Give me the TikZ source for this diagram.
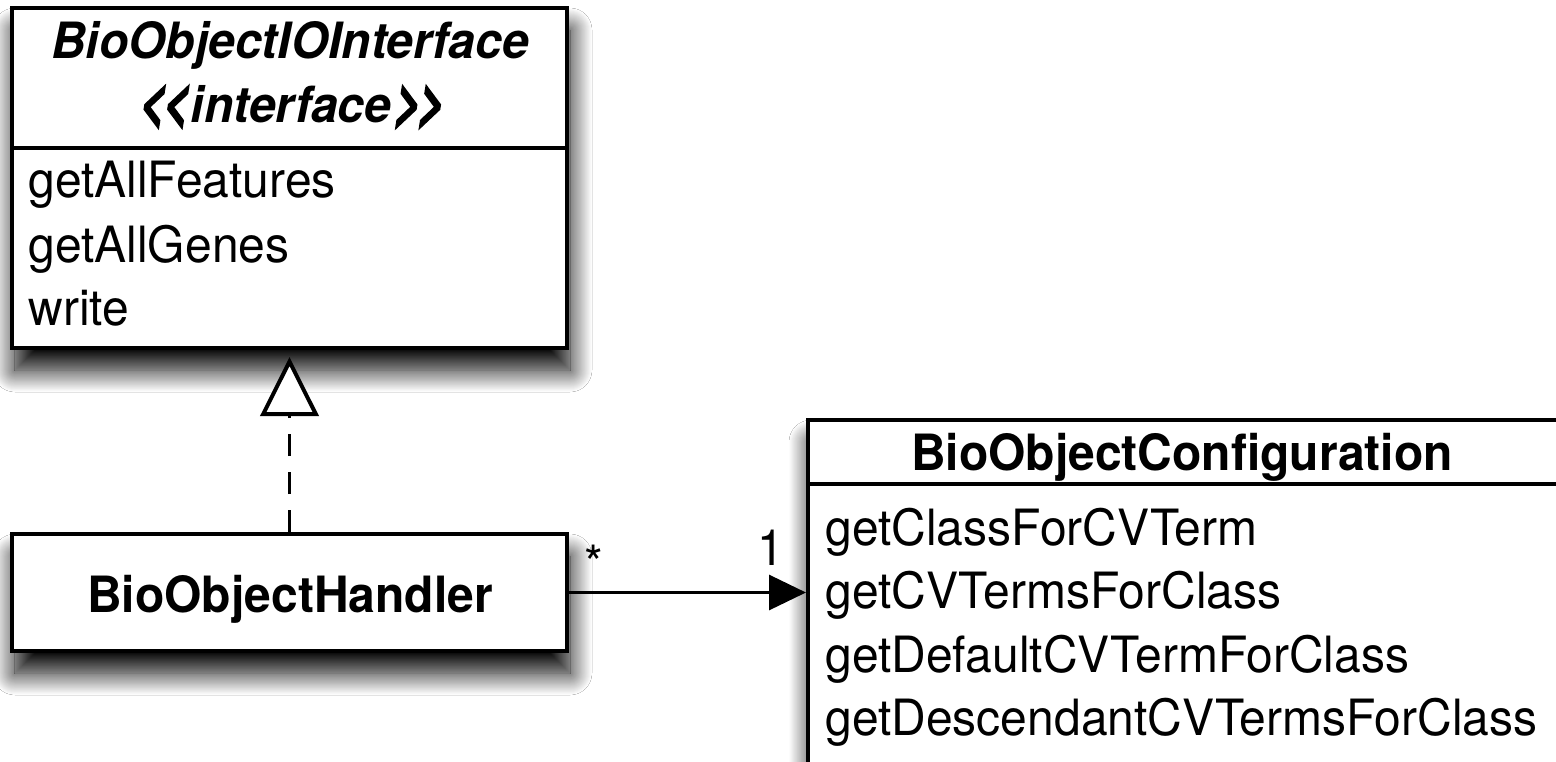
\documentclass[tikz,border=0pt]{standalone}
\usepackage{fontspec}
\usepackage{graphicx}
\setmainfont[FakeStretch=0.96]{TeX Gyre Heros}
\usetikzlibrary{arrows.meta,shadows.blur}
% heavy, slanted angle brackets for stereotypes
\newcommand\stereobracket[1]{\scalebox{0.95}[1.2]{\addfontfeature{FakeBold=3,FakeSlant=0.2}#1}}
\begin{document}
\begin{tikzpicture}[x=0.5pt,y=-0.5pt,
  umlbox/.style={draw=black, line width=2pt, fill=white, rectangle, inner sep=0pt,
    blur shadow={shadow xshift=1.5pt, shadow yshift=-11pt, shadow blur radius=11pt,
      shadow opacity=100, shadow blur steps=24}},
  member/.style={font=\fontsize{25}{30}\selectfont, inner sep=0pt, anchor=base west},
  classname/.style={font=\fontsize{25}{30}\selectfont\bfseries, inner sep=0pt, anchor=base},
  ifacename/.style={font=\fontsize{25}{30}\selectfont\bfseries\itshape, inner sep=0pt, anchor=base},
  multiplicity/.style={font=\fontsize{25}{30}\selectfont, inner sep=0pt, anchor=base},
  realizes/.style={line width=1.5pt, dash pattern=on 11pt off 8pt,
    -{Triangle[open, fill=white, length=29.5pt, width=29pt, line width=2pt]}, shorten >=3.5pt},
  navigates/.style={line width=1.5pt, -{Triangle[length=18.5pt, width=17.5pt]}}
]
% page frame
\path[use as bounding box, clip] (0,0) rectangle (1556,761);
\fill[white] (0,0) rectangle (1556,761);

% class boxes
\node[umlbox, minimum width=277.5pt, minimum height=170pt] (iface) at (289.5,178) {};
\node[umlbox, minimum width=277.5pt, minimum height=58.5pt] (handler) at (289.5,592.5) {};
\node[umlbox, minimum width=406pt, minimum height=200pt] (config) at (1214,620) {};

% compartment dividers
\draw[line width=2pt] ([yshift=-71pt]iface.north west) -- ([yshift=-71pt]iface.north east);
\draw[line width=2pt] ([yshift=-33pt]config.north west) -- ([yshift=-33pt]config.north east);

% BioObjectIOInterface
\node[ifacename] (ifaceA) at (290,58) {BioObjectIOInterface};
\node[ifacename] (ifaceB) at (290,122)
  {\stereobracket{<}\kern-1.5pt\stereobracket{<}\kern1.5pt interface\kern0.5pt\stereobracket{>}\kern-1.5pt\stereobracket{>}};
\node[member] (m1) at (28,197) {getAllFeatures};
\node[member] (m2) at (28,262) {getAllGenes};
\node[member] (m3) at (28,325) {write};

% BioObjectHandler
\node[classname] (handlerT) at (290,612) {BioObjectHandler};

% BioObjectConfiguration
\node[classname] (configT) at (1182,470) {BioObjectConfiguration};
\node[member] (c1) at (825,545) {getClassForCVTerm};
\node[member] (c2) at (825,608) {getCVTermsForClass};
\node[member] (c3) at (825,672) {getDefaultCVTermForClass};
\node[member] (c4) at (825,735) {getDescendantCVTermsForClass};

% relations
\draw[realizes] (handler.north) -- (iface.south);
\draw[navigates] (handler.east) -- (handler.east -| config.west);
\node[multiplicity] (multMany) at (594,581) {*};
\node[multiplicity] (multOne) at (771,565) {1};
\end{tikzpicture}
\end{document}
